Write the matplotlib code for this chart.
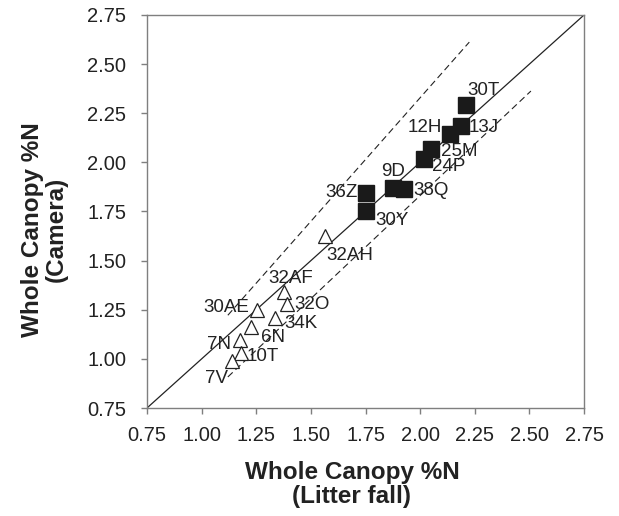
import matplotlib
matplotlib.use("Agg")
import matplotlib.pyplot as plt

plt.rcParams['font.family'] = ['Liberation Sans', 'DejaVu Sans']

# closed squares
sq_names = ['30T', '13J', '12H', '25M', '24P', '9D', '38Q', '36Z', '30Y']
sq_x = [2.21, 2.185, 2.137, 2.05, 2.016, 1.874, 1.926, 1.75, 1.75]
sq_y = [2.29, 2.185, 2.144, 2.07, 2.016, 1.871, 1.865, 1.846, 1.754]

# open triangles
tri_names = ['32AH', '32AF', '32O', '30AE', '34K', '6N', '7N', '10T', '7V']
tri_x = [1.565, 1.377, 1.389, 1.255, 1.336, 1.226, 1.176, 1.179, 1.139]
tri_y = [1.625, 1.34, 1.279, 1.249, 1.206, 1.16, 1.096, 1.031, 0.989]

# dashed bounds (end points)
upper_x = [1.12, 2.225]
upper_y = [1.222, 2.612]
lower_x = [1.12, 2.507]
lower_y = [0.908, 2.363]

ticks = [0.75, 1.00, 1.25, 1.50, 1.75, 2.00, 2.25, 2.50, 2.75]

# label offsets in points
offsets = {
    '30T': (12.5, 11), '13J': (17, -1), '12H': (-18, 5), '25M': (20, -2),
    '24P': (18, -5.5), '9D': (0, 11.5), '38Q': (19.5, -1), '36Z': (-17.5, 0),
    '30Y': (19, -7), '32AH': (17.5, -14), '32AF': (4.5, 10), '32O': (18.5, 0),
    '30AE': (-22.5, 2), '34K': (19, -3.5), '6N': (16, -7), '7N': (-15, -3),
    '10T': (15.5, -3), '7V': (-11.5, -12.5),
}

fig = plt.figure(figsize=(6.19, 5.16), dpi=100)
ax = fig.add_axes([147 / 619, 1 - 408 / 516, 437 / 619, 393 / 516])

ax.plot([0.75, 2.75], [0.75, 2.75], color='#222222', lw=0.9, zorder=1)
ax.plot(upper_x, upper_y, color='#222222', lw=0.8, ls=(0, (6, 3.5)), zorder=1)
ax.plot(lower_x, lower_y, color='#222222', lw=0.8, ls=(0, (6, 3.5)), zorder=1)

ax.plot(tri_x, tri_y, ls='none', marker='^', ms=10.5, mfc='white',
        mec='#222222', mew=0.9, zorder=2)
ax.plot(sq_x, sq_y, ls='none', marker='s', ms=11, mfc='#1a1a1a',
        mec='#1a1a1a', zorder=3)

for n, x, y in zip(sq_names + tri_names, sq_x + tri_x, sq_y + tri_y):
    ax.annotate(n, (x, y), xytext=offsets[n], textcoords='offset points',
                ha='center', va='center', fontsize=13.5, color='#222222',
                zorder=4)

ax.set_xlim(0.75, 2.75)
ax.set_ylim(0.75, 2.75)
ax.set_xticks(ticks)
ax.set_yticks(ticks)
ax.set_xticklabels(['%.2f' % t for t in ticks])
ax.set_yticklabels(['%.2f' % t for t in ticks])
for s in ax.spines.values():
    s.set_color('#7f7f7f')
    s.set_linewidth(1.0)
ax.tick_params(direction='out', length=4, width=1, color='#7f7f7f',
               labelsize=14.5, labelcolor='#222222')
ax.tick_params(axis='x', pad=9)
ax.tick_params(axis='y', pad=11)

ax.set_xlabel('Whole Canopy %N\n(Litter fall)', fontsize=17.5,
              fontweight='bold', color='#222222', linespacing=1.05)
ax.set_ylabel('Whole Canopy %N\n(Camera)', fontsize=17.5,
              fontweight='bold', color='#222222', linespacing=1.05)
ax.xaxis.set_label_coords(0.469, -0.135)
ax.yaxis.set_label_coords(-0.181, 0.455)

fig.savefig('out.png', dpi=100)
